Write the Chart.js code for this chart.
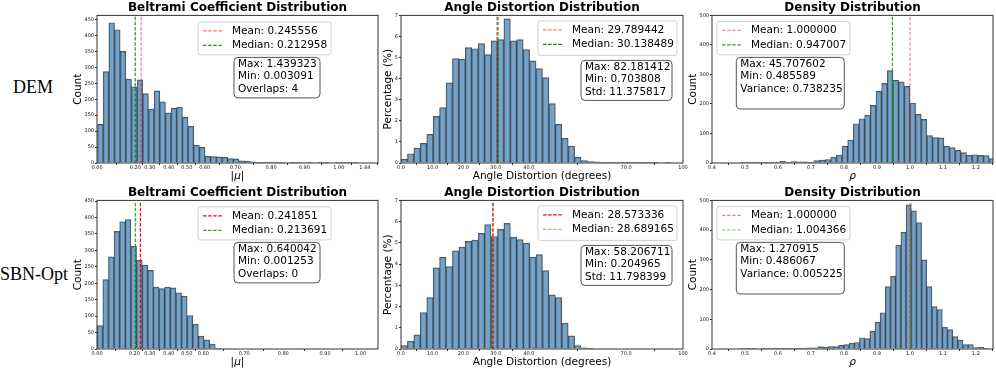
<!DOCTYPE html>
<html>
<head>
<meta charset="utf-8">
<script src="https://cdn.jsdelivr.net/npm/chart.js@4.4.0/dist/chart.umd.min.js"></script>
<style>
  html, body { margin: 0; padding: 0; background: #fff; }
  #fig { position: relative; width: 996px; height: 372px; overflow: hidden; }
  #fig canvas { position: absolute; }
  .rowlab { position: absolute; font-family: "Liberation Serif", "Times New Roman", serif; font-size: 18px; color: #000;
            transform: translate(-50%, -50%); white-space: nowrap; }
</style>
</head>
<body>
<div id="fig">
  <div class="rowlab" style="left:33px;top:87px">DEM</div>
  <div class="rowlab" style="left:34px;top:274px">SBN-Opt</div>
  <canvas id="cA"></canvas><canvas id="cB"></canvas><canvas id="cC"></canvas>
  <canvas id="cD"></canvas><canvas id="cE"></canvas><canvas id="cF"></canvas>
</div>
<script>
// --- textos ---
const colTitles = ['Beltrami Coefficient Distribution', 'Angle Distortion Distribution', 'Density Distribution'];
const xTitles = ['|μ|', 'Angle Distortion (degrees)', 'ρ'];
const yTitles = ['Count', 'Percentage (%)', 'Count'];

// --- histogramas ---
const muDemCounts = [121, 287, 440, 418, 350, 263, 239, 261, 218, 169, 226, 192, 157, 172, 175, 143, 115, 56, 49, 21,
  20, 19, 18, 14, 13, 7, 6, 4, 2, 1, 3, 3, 1, 0, 2, 1, 0, 1, 0, 3, 2, 0, 1, 2, 1, 1];
const muSbnCounts = [71, 211, 280, 358, 387, 394, 312, 270, 255, 239, 188, 184, 188, 186, 171, 161, 102, 76, 39, 28, 15, 3];
const angleDemPct = [0.17, 0.44, 0.71, 0.93, 1.36, 2.21, 2.63, 3.80, 4.95, 4.93, 5.47, 5.42, 5.66, 5.14, 5.79, 5.85, 6.84,
  5.79, 5.85, 5.38, 4.84, 4.48, 4.05, 2.82, 1.83, 1.17, 0.80, 0.27, 0.12, 0.07, 0.05, 0.03, 0.02, 0.01, 0.01, 0.03, 0.01,
  0.01, 0.03, 0.01, 0.00, 0.01];
const angleSbnPct = [0.16, 0.37, 0.67, 1.72, 2.42, 3.82, 4.32, 3.88, 4.62, 4.80, 5.07, 5.13, 5.45, 5.86, 5.30, 5.64, 5.92,
  5.26, 5.16, 4.99, 4.33, 4.45, 3.69, 2.55, 2.42, 1.22, 0.62, 0.16, 0.06, 0.02];
const rhoDemCounts = [2, 3, 3, 2, 1, 2, 1, 6, 2, 5, 4, 4, 3, 8, 10, 12, 20, 27, 57, 78, 133, 150, 162, 195, 243, 270, 313,
  280, 275, 260, 203, 165, 148, 93, 86, 85, 57, 52, 43, 35, 26, 28, 26, 25, 15];
const rhoSbnCounts = [2, 1, 1, 0, 2, 1, 3, 1, 2, 2, 2, 3, 3, 4, 4, 8, 6, 8, 8, 12, 15, 20, 22, 38, 35, 60, 90, 122, 210,
  245, 350, 393, 485, 465, 425, 300, 210, 143, 133, 73, 65, 42, 30, 15, 15, 5, 6, 1, 0, 1];

// [inicio, largura] de cada bin
const muDemBin = [0.003091, 0.0315];
const muSbnBin = [0.001253, 0.0313];
const angleDemBin = [0, 2];
const angleSbnBin = [0, 2];
const rhoDemBin = [0.485589, 0.01715];
const rhoSbnBin = [0.486067, 0.015697];

// --- media / mediana / caixas de estatistica ---
const meanDem = [0.245556, 29.789442, 1.000000];
const medianDem = [0.212958, 30.138489, 0.947007];
const meanSbn = [0.241851, 28.573336, 1.000000];
const medianSbn = [0.213691, 28.689165, 1.004366];
const statsDem = [['Max: 1.439323', 'Min: 0.003091', 'Overlaps: 4'],
                  ['Max: 82.181412', 'Min: 0.703808', 'Std: 11.375817'],
                  ['Max: 45.707602', 'Min: 0.485589', 'Variance: 0.738235']];
const statsSbn = [['Max: 0.640042', 'Min: 0.001253', 'Overlaps: 0'],
                  ['Max: 58.206711', 'Min: 0.204965', 'Std: 11.798399'],
                  ['Max: 1.270915', 'Min: 0.486067', 'Variance: 0.005225']];

// --- eixos ---
const muXRange = [0, 1.565];
const angleXRange = [0, 87.7];
const rhoXRange = [0.4, 1.252];
const muDemTickVals = [0, 0.213, 0.294, 0.40, 0.50, 0.60, 0.77, 0.97, 1.155, 1.347, 1.492];
const muDemTickLabels = ['0.00', '0.20', '0.30', '0.40', '0.50', '0.60', '0.70', '0.80', '0.90', '1.00', '1.44'];
const muSbnTickVals = [0, 0.208, 0.294, 0.40, 0.50, 0.592, 0.82, 1.037, 1.27, 1.468];
const muSbnTickLabels = ['0.00', '0.20', '0.30', '0.40', '0.50', '0.60', '0.70', '0.80', '0.90', '1.00'];
const angleTickVals = [0, 9.8, 19.4, 29.5, 39.8, 70, 87.7];
const angleTickLabels = ['0.0', '10.0', '20.0', '30.0', '40.0', '70.0', '100'];
const rhoTickVals = [0.4, 0.5, 0.6, 0.7, 0.8, 0.9, 1.0, 1.1, 1.2];
const rhoTickLabels = ['0.4', '0.5', '0.6', '0.7', '0.8', '0.9', '1.0', '1.1', '1.2'];
const muYTicks = [0, 50, 100, 150, 200, 250, 300, 350, 400, 450];
const angleYTicks = [0, 1, 2, 3, 4, 5, 6, 7];
const rhoYTicks = [0, 100, 200, 300, 400, 500];
const yMaxDem = [463, 7, 500];
const yMaxSbn = [452, 7, 500];

// --- layout (pixels) ---
const COLS = [
  { left: 56, w: 330, padR: 8, yPad: 16.2, lg: { dx: 101, dy: 6.5, w: 133, h: 33 }, st: { dx: 137, dy: 42, w: 86, h: 40.5 } },
  { left: 360, w: 331, padR: 8, yPad: 22.4, lg: { dx: 137, dy: 5.5, w: 139, h: 34.5 }, st: { dx: 180, dy: 45, w: 91, h: 40 } },
  { left: 671, w: 325, padR: 3, yPad: 15.7, lg: { dx: 5, dy: 6, w: 133, h: 33.5 }, st: { dx: 24.3, dy: 42, w: 108, h: 51.6 } }
];
const ROWS = [{ top: 0, h: 186 }, { top: 185, h: 187 }];
const FONT = '"DejaVu Sans", sans-serif';
const BAR_FILL = 'rgba(70,130,180,0.74)';
const BAR_EDGE = 'rgba(25,25,25,0.75)';

function caixa(ctx, x, y, w, h, r, fill, stroke) {
  ctx.beginPath();
  ctx.moveTo(x + r, y);
  ctx.arcTo(x + w, y, x + w, y + h, r);
  ctx.arcTo(x + w, y + h, x, y + h, r);
  ctx.arcTo(x, y + h, x, y, r);
  ctx.arcTo(x, y, x + w, y, r);
  ctx.closePath();
  ctx.fillStyle = fill; ctx.fill();
  ctx.lineWidth = 1; ctx.strokeStyle = stroke; ctx.stroke();
}

// moldura, legenda e caixa de estatisticas
const extrasPainel = {
  id: 'extrasPainel',
  afterDatasetsDraw(chart, args, o) {
    const { ctx, chartArea: a } = chart;
    ctx.save();
    ctx.setLineDash([]);
    ctx.strokeStyle = '#333'; ctx.lineWidth = 1;
    ctx.strokeRect(a.left, a.top, a.right - a.left, a.bottom - a.top);
    ctx.font = '10.5px ' + FONT;
    ctx.textBaseline = 'middle';
    ctx.textAlign = 'left';
    const L = o.legend;
    let x = a.left + L.dx, y = a.top + L.dy;
    caixa(ctx, x, y, L.w, L.h, 2.5, 'rgba(255,255,255,0.85)', '#cfcfcf');
    L.items.forEach((it, i) => {
      const yy = y + 9 + i * 14.5;
      ctx.strokeStyle = it.color; ctx.lineWidth = 1.2; ctx.setLineDash([3.5, 1.6]);
      ctx.beginPath(); ctx.moveTo(x + 5, yy); ctx.lineTo(x + 25, yy); ctx.stroke();
      ctx.setLineDash([]);
      ctx.fillStyle = '#000'; ctx.fillText(it.text, x + 34, yy);
    });
    const S = o.stats;
    x = a.left + S.dx; y = a.top + S.dy;
    caixa(ctx, x, y, S.w, S.h, 4, '#fff', '#555');
    ctx.fillStyle = '#000';
    S.lines.forEach((t, i) => ctx.fillText(t, x + 4, y + 7 + i * 12.3));
    ctx.restore();
  }
};

function pontosHist(counts, bin) {
  return counts.map((c, i) => ({ x: bin[0] + (i + 0.5) * bin[1], y: c }));
}

function montarPainel(id, row, col, p) {
  const C = COLS[col], R = ROWS[row];
  const cv = document.getElementById(id);
  cv.width = C.w; cv.height = R.h;
  cv.style.left = C.left + 'px'; cv.style.top = R.top + 'px';
  const tickFont = { family: FONT, size: 5 };
  return new Chart(cv, {
    type: 'bar',
    data: {
      datasets: [
        { type: 'line', data: [{ x: p.mean, y: 0 }, { x: p.mean, y: p.ymax }], borderColor: p.meanColor,
          borderWidth: 1.2, borderDash: [3.5, 1.6], pointRadius: 0, order: 0 },
        { type: 'line', data: [{ x: p.median, y: 0 }, { x: p.median, y: p.ymax }], borderColor: p.medianColor,
          borderWidth: 1.2, borderDash: [3.5, 1.6], pointRadius: 0, order: 0 },
        { data: pontosHist(p.counts, p.bin), backgroundColor: BAR_FILL, borderColor: BAR_EDGE, borderWidth: 0.8,
          barPercentage: 1, categoryPercentage: 1, order: 1 }
      ]
    },
    options: {
      responsive: false, animation: false, devicePixelRatio: 1,
      layout: { padding: { left: 0, right: C.padR, top: 0, bottom: 0 } },
      plugins: {
        legend: { display: false }, tooltip: { enabled: false },
        title: { display: true, text: colTitles[col], fullSize: false, color: '#000',
                 font: { family: FONT, size: 12, weight: 'bold', lineHeight: 1.2 }, padding: { top: 1, bottom: 0 } },
        extrasPainel: {
          legend: { ...C.lg, items: [
            { text: 'Mean: ' + p.mean.toFixed(6), color: p.meanColor },
            { text: 'Median: ' + p.median.toFixed(6), color: p.medianColor }] },
          stats: { ...C.st, lines: p.stats }
        }
      },
      scales: {
        x: {
          type: 'linear', offset: false, min: p.xr[0], max: p.xr[1],
          afterBuildTicks: s => { s.ticks = p.xt.map(v => ({ value: v })); },
          afterFit: s => { s.height = 23; },
          ticks: { autoSkip: false, maxRotation: 0, padding: 0, color: '#111', font: tickFont,
                   callback: (v, i) => p.xl[i] },
          grid: { drawOnChartArea: false, drawTicks: true, tickLength: 2, tickColor: '#333' },
          border: { display: false },
          title: { display: true, text: xTitles[col], color: '#000', padding: { top: 0, bottom: 3.6 },
                   font: { family: FONT, size: 10.5, style: col === 1 ? 'normal' : 'italic', lineHeight: 1.2 } }
        },
        y: {
          min: 0, max: p.ymax,
          afterBuildTicks: s => { s.ticks = p.yt.map(v => ({ value: v })); },
          afterFit: s => { s.width = 41; },
          ticks: { padding: 1, color: '#111', font: tickFont },
          grid: { drawOnChartArea: false, drawTicks: true, tickLength: 2, tickColor: '#333' },
          border: { display: false },
          title: { display: true, text: yTitles[col], color: '#000', padding: { top: C.yPad, bottom: 0 },
                   font: { family: FONT, size: 10.5, lineHeight: 1.2 } }
        }
      }
    },
    plugins: [extrasPainel]
  });
}

montarPainel('cA', 0, 0, { counts: muDemCounts, bin: muDemBin, xr: muXRange, xt: muDemTickVals, xl: muDemTickLabels,
  yt: muYTicks, ymax: yMaxDem[0], mean: meanDem[0], median: medianDem[0], stats: statsDem[0],
  meanColor: 'rgba(255,0,0,0.55)', medianColor: 'rgba(0,128,0,0.85)' });
montarPainel('cB', 0, 1, { counts: angleDemPct, bin: angleDemBin, xr: angleXRange, xt: angleTickVals, xl: angleTickLabels,
  yt: angleYTicks, ymax: yMaxDem[1], mean: meanDem[1], median: medianDem[1], stats: statsDem[1],
  meanColor: 'rgba(255,0,0,0.5)', medianColor: 'rgba(0,128,0,0.95)' });
montarPainel('cC', 0, 2, { counts: rhoDemCounts, bin: rhoDemBin, xr: rhoXRange, xt: rhoTickVals, xl: rhoTickLabels,
  yt: rhoYTicks, ymax: yMaxDem[2], mean: meanDem[2], median: medianDem[2], stats: statsDem[2],
  meanColor: 'rgba(255,0,0,0.45)', medianColor: 'rgba(0,150,0,0.85)' });
montarPainel('cD', 1, 0, { counts: muSbnCounts, bin: muSbnBin, xr: muXRange, xt: muSbnTickVals, xl: muSbnTickLabels,
  yt: muYTicks, ymax: yMaxSbn[0], mean: meanSbn[0], median: medianSbn[0], stats: statsSbn[0],
  meanColor: '#ff0000', medianColor: 'rgba(0,140,0,0.8)' });
montarPainel('cE', 1, 1, { counts: angleSbnPct, bin: angleSbnBin, xr: angleXRange, xt: angleTickVals, xl: angleTickLabels,
  yt: angleYTicks, ymax: yMaxSbn[1], mean: meanSbn[1], median: medianSbn[1], stats: statsSbn[1],
  meanColor: '#ff0000', medianColor: 'rgba(0,170,0,0.5)' });
montarPainel('cF', 1, 2, { counts: rhoSbnCounts, bin: rhoSbnBin, xr: rhoXRange, xt: rhoTickVals, xl: rhoTickLabels,
  yt: rhoYTicks, ymax: yMaxSbn[2], mean: meanSbn[2], median: medianSbn[2], stats: statsSbn[2],
  meanColor: 'rgba(255,0,0,0.5)', medianColor: 'rgba(0,180,0,0.45)' });
</script>
</body>
</html>
